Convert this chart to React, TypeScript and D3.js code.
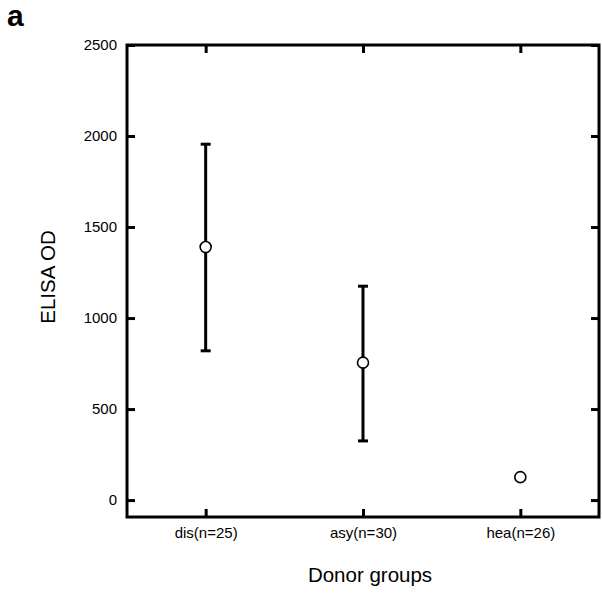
import React, { useRef, useEffect } from 'react';
import * as d3 from 'd3';

// donor groups and ELISA OD values
const groups = ['dis(n=25)', 'asy(n=30)', 'hea(n=26)'];
const means = [1390, 755, 126];
const upper = [1955, 1175, null];
const lower = [820, 325, null];
const yTicks = [0, 500, 1000, 1500, 2000, 2500];

const W = 602;
const H = 594;
const margin = { top: 45, right: 3, bottom: 77, left: 127 };

const App = () => {
  const svgRef = useRef<SVGSVGElement>(null);

  useEffect(() => {
    const svg = d3.select(svgRef.current);
    svg.selectAll('*').remove();

    const x = d3.scalePoint<string>()
      .domain(groups)
      .range([margin.left, W - margin.right])
      .padding(0.5);
    const y = d3.scaleLinear()
      .domain([-93, 2500])
      .range([H - margin.bottom, margin.top]);

    const font = '"Liberation Sans", Arial, Helvetica, sans-serif';
    const x0 = margin.left, x1 = W - margin.right;
    const y0 = H - margin.bottom, y1 = margin.top;

    // axes, ticks pointing inward
    const styleAxis = (g: any) => {
      g.select('.domain').remove();
      g.selectAll('line').attr('stroke', '#000').attr('stroke-width', 3);
      g.selectAll('text').attr('fill', '#000').attr('font-family', font).attr('font-size', 15);
    };

    svg.append('g')
      .attr('transform', `translate(${x0},0)`)
      .call(d3.axisLeft(y).tickValues(yTicks).tickSize(-8).tickPadding(10).tickFormat(d3.format('d')))
      .call(styleAxis);
    svg.append('g')
      .attr('transform', `translate(${x1},0)`)
      .call(d3.axisRight(y).tickValues(yTicks).tickSize(-8).tickFormat(() => ''))
      .call(styleAxis);
    svg.append('g')
      .attr('transform', `translate(0,${y0})`)
      .call(d3.axisBottom(x).tickSize(-8).tickPadding(10))
      .call(styleAxis);
    svg.append('g')
      .attr('transform', `translate(0,${y1})`)
      .call(d3.axisTop(x).tickSize(-8).tickFormat(() => ''))
      .call(styleAxis);

    // frame
    svg.append('rect')
      .attr('x', x0).attr('y', y1)
      .attr('width', x1 - x0).attr('height', y0 - y1)
      .attr('fill', 'none')
      .attr('stroke', '#000')
      .attr('stroke-width', 3);

    // error bars
    const bars = groups.map((g, i) => ({ g, lo: lower[i], hi: upper[i] })).filter(d => d.lo != null);
    const eb = svg.append('g').attr('stroke', '#000').attr('stroke-width', 3);
    bars.forEach(d => {
      const cx = x(d.g)!;
      eb.append('line').attr('x1', cx).attr('x2', cx).attr('y1', y(d.lo!)).attr('y2', y(d.hi!));
      eb.append('line').attr('x1', cx - 5).attr('x2', cx + 5).attr('y1', y(d.lo!)).attr('y2', y(d.lo!));
      eb.append('line').attr('x1', cx - 5).attr('x2', cx + 5).attr('y1', y(d.hi!)).attr('y2', y(d.hi!));
    });

    // means
    svg.append('g')
      .selectAll('circle')
      .data(groups.map((g, i) => ({ g, v: means[i] })))
      .join('circle')
      .attr('cx', d => x(d.g)!)
      .attr('cy', d => y(d.v))
      .attr('r', 5.5)
      .attr('fill', '#fff')
      .attr('stroke', '#000')
      .attr('stroke-width', 1.6);

    // labels
    svg.append('text')
      .attr('x', 370)
      .attr('y', 582)
      .attr('text-anchor', 'middle')
      .attr('font-family', font)
      .attr('font-size', 20.5)
      .text('Donor groups');
    svg.append('text')
      .attr('transform', `translate(55,277) rotate(-90)`)
      .attr('text-anchor', 'middle')
      .attr('font-family', font)
      .attr('font-size', 20.5)
      .text('ELISA OD');
    svg.append('text')
      .attr('x', 7)
      .attr('y', 26)
      .attr('font-family', font)
      .attr('font-weight', 'bold')
      .attr('font-size', 30)
      .text('a');
  }, []);

  return (
    <svg ref={svgRef} width={W} height={H}
      style={{ position: 'absolute', left: 0, top: 0, background: '#fff' }} />
  );
};

export default App;
